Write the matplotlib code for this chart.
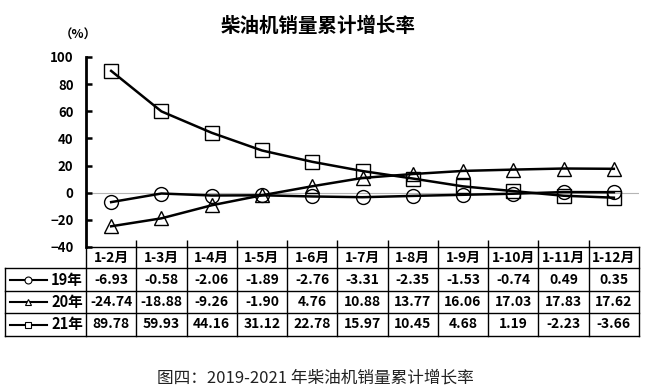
import matplotlib
matplotlib.use('Agg')
import matplotlib.pyplot as plt
from matplotlib.lines import Line2D
from matplotlib.transforms import blended_transform_factory

plt.rcParams['font.family'] = ['Noto Sans CJK SC', 'DejaVu Sans']

# data
months = ['1-2月', '1-3月', '1-4月', '1-5月', '1-6月', '1-7月',
          '1-8月', '1-9月', '1-10月', '1-11月', '1-12月']
names = ['19年', '20年', '21年']
y19 = [-6.93, -0.58, -2.06, -1.89, -2.76, -3.31, -2.35, -1.53, -0.74, 0.49, 0.35]
y20 = [-24.74, -18.88, -9.26, -1.90, 4.76, 10.88, 13.77, 16.06, 17.03, 17.83, 17.62]
y21 = [89.78, 59.93, 44.16, 31.12, 22.78, 15.97, 10.45, 4.68, 1.19, -2.23, -3.66]
series = [y19, y20, y21]
markers = ['o', '^', 's']
yticks = [-40, -20, 0, 20, 40, 60, 80, 100]

W, H = 650, 389
fig = plt.figure(figsize=(6.5, 3.89), dpi=100)


def fx(px):
    return px / W


def fy(py):
    return 1 - py / H


ax = fig.add_axes([fx(86), fy(247), fx(639) - fx(86), fy(57) - fy(247)])
x = list(range(len(months)))

ax.axhline(0, color='#b5b5b5', lw=0.8, zorder=0)
for vals, m in zip(series, markers):
    ax.plot(x, vals, color='black', lw=1.8, marker=m, ms=10,
            mfc='none', mec='black', mew=1.0)

ax.set_xlim(-0.5, len(months) - 0.5)
ax.set_ylim(-40, 100)
ax.set_yticks(yticks)
ax.set_xticks([])
ax.set_xticks([i + 0.5 for i in range(len(months) - 1)], minor=True)
ax.tick_params(axis='x', which='minor', direction='in', length=5, width=1)
ax.tick_params(axis='y', direction='in', length=4, width=1.8, labelsize=9.5, pad=9)
for lab in ax.get_yticklabels():
    lab.set_fontweight('bold')
for s in ['top', 'right']:
    ax.spines[s].set_visible(False)
ax.spines['left'].set_linewidth(2)
ax.spines['bottom'].set_linewidth(1)

# data table below the axes
tr = blended_transform_factory(ax.transData, fig.transFigure)
row_edges = [247, 268, 291, 313, 336]
lk = dict(color='black', lw=1, clip_on=False)
# horizontal lines
for r in row_edges[1:]:
    fig.add_artist(Line2D([fx(5), fx(639)], [fy(r)] * 2, **lk))
# vertical lines
fig.add_artist(Line2D([fx(5), fx(5)], [fy(268), fy(336)], **lk))
for i in range(len(months) + 1):
    ax.add_line(Line2D([i - 0.5, i - 0.5], [fy(247), fy(336)], transform=tr, **lk))

tk = dict(ha='center', va='center', fontsize=10, fontweight='bold')
for i, mth in enumerate(months):
    ax.text(i, fy((247 + 268) / 2), mth, transform=tr, **tk)
for r, vals in enumerate(series):
    yc = fy((row_edges[r + 1] + row_edges[r + 2]) / 2)
    for i, v in enumerate(vals):
        ax.text(i, yc, f'{v:.2f}', transform=tr, **tk)
    fig.text(fx(83), yc, names[r], ha='right', va='center', fontsize=10.5, fontweight='bold')
    fig.add_artist(Line2D([fx(10), fx(28), fx(47)], [yc, yc, yc], color='black', lw=1.5,
                          marker=markers[r], markevery=[1], ms=5, mfc='white', mec='black', mew=0.8))

fig.text(fx(318), fy(26), '柴油机销量累计增长率', ha='center', va='center',
         fontsize=14, fontweight='bold')
fig.text(fx(78), fy(35), '（%）', ha='center', va='center', fontsize=9, fontweight='bold')
fig.text(fx(315), fy(378), '图四：2019-2021 年柴油机销量累计增长率', ha='center', va='center',
         fontsize=12, color='#222222')

fig.savefig('out.png', dpi=100)
